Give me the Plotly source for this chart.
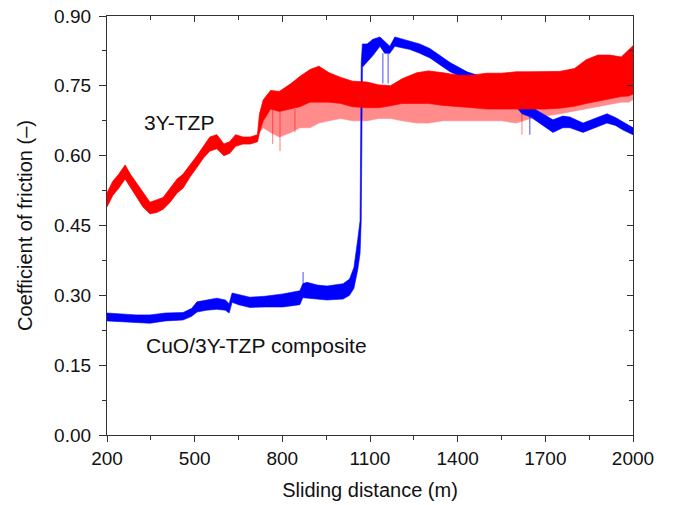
import plotly.graph_objects as go

# ---- 3Y-TZP (red) : envelope ----
red_x = [200, 220, 240, 262, 280, 303, 323, 347, 370, 392, 416, 440, 460, 485, 508, 530,
         552, 576, 600, 620, 640, 665, 690, 715, 722, 735, 760, 790, 830, 860, 895, 925,
         960, 1000, 1040, 1090, 1130, 1170, 1210, 1260, 1300, 1350, 1400, 1450, 1500, 1550,
         1600, 1650, 1700, 1750, 1800, 1840, 1880, 1920, 1960, 1985, 2000]
red_lo = [0.490, 0.515, 0.530, 0.550, 0.530, 0.510, 0.490, 0.475, 0.478, 0.485, 0.500, 0.520,
          0.530, 0.555, 0.575, 0.595, 0.610, 0.615, 0.600, 0.605, 0.620, 0.625, 0.625, 0.630,
          0.650, 0.675, 0.700, 0.695, 0.700, 0.705, 0.715, 0.715, 0.715, 0.712, 0.705, 0.703,
          0.703, 0.707, 0.712, 0.712, 0.712, 0.708, 0.705, 0.703, 0.700, 0.700, 0.700, 0.700,
          0.700, 0.702, 0.706, 0.712, 0.718, 0.722, 0.727, 0.728, 0.732]
red_hi = [0.520, 0.545, 0.560, 0.580, 0.560, 0.540, 0.520, 0.500, 0.505, 0.510, 0.530, 0.550,
          0.560, 0.580, 0.600, 0.620, 0.640, 0.645, 0.625, 0.630, 0.645, 0.640, 0.640, 0.645,
          0.690, 0.720, 0.740, 0.738, 0.755, 0.770, 0.785, 0.792, 0.778, 0.768, 0.760, 0.758,
          0.752, 0.750, 0.765, 0.778, 0.782, 0.778, 0.773, 0.773, 0.777, 0.777, 0.780, 0.780,
          0.780, 0.781, 0.787, 0.806, 0.816, 0.816, 0.812, 0.826, 0.836]
red_spike_lo = [0.490, 0.515, 0.530, 0.550, 0.530, 0.510, 0.490, 0.475, 0.478, 0.485, 0.500, 0.520,
                0.530, 0.555, 0.575, 0.595, 0.610, 0.615, 0.600, 0.605, 0.620, 0.625, 0.625, 0.630,
                0.650, 0.660, 0.650, 0.640, 0.650, 0.660, 0.660, 0.670, 0.675, 0.680, 0.675, 0.675,
                0.680, 0.680, 0.675, 0.670, 0.670, 0.675, 0.675, 0.675, 0.675, 0.675, 0.670, 0.680,
                0.685, 0.690, 0.695, 0.700, 0.705, 0.710, 0.715, 0.715, 0.720]
red_spk_x = [767, 792, 843, 1620]
red_spk_top = [0.700, 0.695, 0.700, 0.705]
red_spk_bot = [0.625, 0.610, 0.650, 0.645]

# ---- CuO/3Y-TZP composite (blue) ----
blue_x = [200, 250, 300, 347, 400, 460, 490, 508, 540, 576, 605, 618, 628, 650, 689, 740,
          802, 860, 870, 884, 920, 953, 1008, 1030, 1045, 1058, 1066, 1070, 1074, 1090, 1110,
          1134, 1150, 1168, 1185, 1237, 1270, 1305, 1340, 1374, 1432, 1480, 1530, 1580, 1620,
          1650, 1690, 1726, 1760, 1784, 1829, 1870, 1911, 1940, 1966, 2000]
blue_lo = [0.245, 0.243, 0.242, 0.240, 0.245, 0.247, 0.255, 0.264, 0.268, 0.270, 0.268, 0.262,
           0.285, 0.280, 0.274, 0.275, 0.275, 0.280, 0.295, 0.295, 0.292, 0.290, 0.292, 0.300,
           0.315, 0.355, 0.390, 0.460, 0.790, 0.800, 0.815, 0.835, 0.820, 0.820, 0.835, 0.828,
           0.820, 0.810, 0.795, 0.780, 0.763, 0.750, 0.735, 0.720, 0.690, 0.683, 0.665, 0.650,
           0.660, 0.660, 0.650, 0.660, 0.670, 0.665, 0.655, 0.645]
blue_hi = [0.262, 0.260, 0.258, 0.258, 0.262, 0.263, 0.272, 0.286, 0.290, 0.294, 0.290, 0.282,
           0.305, 0.302, 0.296, 0.298, 0.303, 0.310, 0.325, 0.328, 0.322, 0.320, 0.325, 0.335,
           0.360, 0.420, 0.460, 0.800, 0.840, 0.840, 0.850, 0.855, 0.845, 0.835, 0.855, 0.845,
           0.840, 0.830, 0.815, 0.800, 0.780, 0.770, 0.760, 0.745, 0.712, 0.705, 0.690, 0.677,
           0.685, 0.683, 0.670, 0.680, 0.690, 0.682, 0.672, 0.660]
blue_spk_x = [871, 1144, 1162, 1647]
blue_spk_top = [0.300, 0.820, 0.820, 0.690]
blue_spk_bot = [0.350, 0.755, 0.755, 0.645]

x_ticks = [200, 500, 800, 1100, 1400, 1700, 2000]
y_ticks = [0.00, 0.15, 0.30, 0.45, 0.60, 0.75, 0.90]

FONT = "Liberation Sans, Arial, sans-serif"


def band(x, lo, hi, color, opacity):
    return go.Scatter(x=list(x) + list(x)[::-1], y=list(hi) + list(lo)[::-1],
                      fill="toself", fillcolor=color, opacity=opacity,
                      line=dict(width=0.6, color=color), mode="lines",
                      hoverinfo="skip", showlegend=False)


def spikes(xs, tops, bots, color, opacity):
    px, py = [], []
    for a, t, b in zip(xs, tops, bots):
        px += [a, a, None]
        py += [t, b, None]
    return go.Scatter(x=px, y=py, mode="lines", opacity=opacity,
                      line=dict(width=1, color=color), hoverinfo="skip", showlegend=False)


fig = go.Figure()
fig.add_trace(band(red_x, red_spike_lo, red_hi, "#ff0000", 0.45))
fig.add_trace(spikes(red_spk_x, red_spk_top, red_spk_bot, "#ff0000", 0.5))
fig.add_trace(band(blue_x, blue_lo, blue_hi, "#0000ff", 1.0))
fig.add_trace(spikes(blue_spk_x, blue_spk_top, blue_spk_bot, "#0000ff", 0.7))
fig.add_trace(band(red_x, red_lo, red_hi, "#ff0000", 1.0))
# invisible trace to bring up the mirror axes
fig.add_trace(go.Scatter(x=[200, 2000], y=[0, 0.9], xaxis="x2", yaxis="y2", mode="markers",
                         marker=dict(opacity=0), hoverinfo="skip", showlegend=False))

axis_line = dict(showline=True, linecolor="#333333", linewidth=1.3, showgrid=False,
                 zeroline=False, tickcolor="#333333", tickwidth=1.2, automargin=False)

fig.update_layout(
    width=674, height=505,
    margin=dict(l=107, r=41, t=16, b=70),
    paper_bgcolor="white", plot_bgcolor="white",
    font=dict(family=FONT, color="#111111"),
    xaxis=dict(range=[200, 2000], tickvals=x_ticks, ticks="outside", ticklen=6, mirror=True,
               minor=dict(dtick=150, tick0=200, ticks="outside", ticklen=4,
                          tickcolor="#333333", tickwidth=1.2),
               tickfont=dict(size=19, family=FONT), ticklabeloverflow="allow",
               title=dict(text="Sliding distance (m)", font=dict(size=20, family=FONT), standoff=15),
               **axis_line),
    yaxis=dict(range=[0, 0.9], tickvals=y_ticks, tickformat=".2f", ticks="outside", ticklen=7, mirror=True,
               minor=dict(dtick=0.075, tick0=0, ticks="outside", ticklen=4,
                          tickcolor="#333333", tickwidth=1.2),
               tickfont=dict(size=19, family=FONT), ticklabeloverflow="allow",
               ticklabelstandoff=4,
               title=dict(text="Coefficient of friction (–)", font=dict(size=20, family=FONT), standoff=16),
               **axis_line),
    xaxis2=dict(overlaying="x", side="top", anchor="y", range=[200, 2000], tickvals=x_ticks,
                ticks="inside", ticklen=6, showticklabels=False,
                minor=dict(dtick=150, tick0=200, ticks="inside", ticklen=4,
                           tickcolor="#333333", tickwidth=1.2),
                **axis_line),
    yaxis2=dict(overlaying="y", side="right", anchor="x", range=[0, 0.9], tickvals=y_ticks,
                ticks="inside", ticklen=6, showticklabels=False,
                minor=dict(dtick=0.075, tick0=0, ticks="inside", ticklen=4,
                           tickcolor="#333333", tickwidth=1.2),
                **axis_line),
    annotations=[
        dict(x=448, y=0.672, xref="x", yref="y", text="3Y-TZP", showarrow=False,
             font=dict(size=21, family=FONT, color="#111111")),
        dict(x=710, y=0.193, xref="x", yref="y", text="CuO/3Y-TZP composite", showarrow=False,
             font=dict(size=21, family=FONT, color="#111111")),
    ],
)

fig.write_html("out.html", config={"displayModeBar": False},
               post_script="document.body.style.margin='0';")
